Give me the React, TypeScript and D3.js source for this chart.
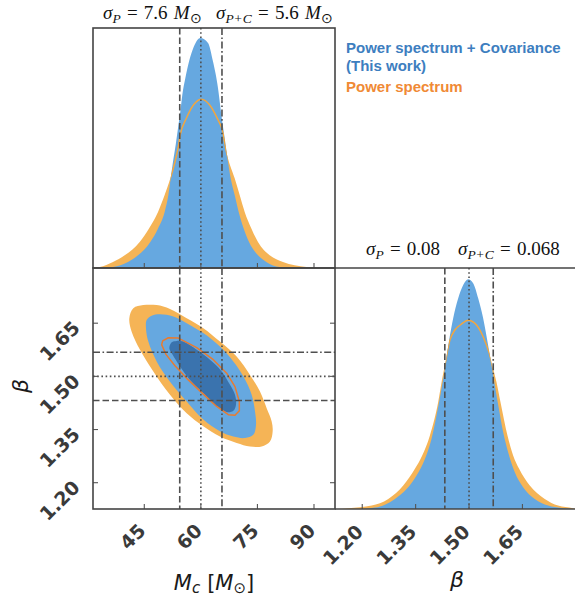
import React from 'react';
import * as d3 from 'd3';

// ---------------- data ----------------
const mcTicks = [45, 60, 75, 90];
const betaTicks = [1.2, 1.35, 1.5, 1.65];
const mcTickLabels = ['45', '60', '75', '90'];
const betaTickLabels = ['1.20', '1.35', '1.50', '1.65'];

// reference lines: lower sigma, true value, upper sigma
const mcRefLines = [54.4, 60.0, 65.6];
const betaRefLines = [1.432, 1.5, 1.568];
const refLineKinds = ['dashed', 'dotted', 'dashdot'];

// 1D marginal of Mc, Power spectrum + Covariance (normalised to its peak)
const mcBlueX = [33, 36.7, 40.68, 43.33, 46.6, 48.64, 50.4, 51.38, 52.0, 52.61, 53.32, 53.94, 54.56, 55.09, 55.89, 56.86, 57.92, 59.86, 61.9, 63.22, 64.55, 65.43, 66.32, 67.2, 67.91, 68.97, 70.03, 71.35, 72.77, 75.15, 77.36, 80.9, 86];
const mcBlueY = [0, 0.004, 0.026, 0.055, 0.113, 0.172, 0.244, 0.317, 0.39, 0.462, 0.535, 0.608, 0.68, 0.753, 0.826, 0.898, 0.953, 1.0, 0.978, 0.898, 0.782, 0.666, 0.564, 0.462, 0.39, 0.317, 0.244, 0.172, 0.113, 0.055, 0.026, 0.004, 0];
// 1D marginal of Mc, Power spectrum only
const mcOrangeX = [31.5, 33.17, 36.7, 39.8, 43.78, 46.25, 48.64, 50.4, 51.91, 53.15, 53.94, 54.56, 56.15, 58.18, 60.13, 62.34, 64.55, 65.7, 66.76, 68.97, 70.29, 71.62, 73.39, 75.15, 78.25, 81.78, 87.97, 92];
const mcOrangeY = [0, 0.004, 0.026, 0.055, 0.113, 0.172, 0.244, 0.317, 0.39, 0.462, 0.52, 0.581, 0.651, 0.712, 0.734, 0.709, 0.644, 0.6, 0.506, 0.39, 0.317, 0.244, 0.172, 0.113, 0.055, 0.026, 0.004, 0];

// 1D marginal of beta, Power spectrum + Covariance
const betaBlueX = [1.2, 1.2357, 1.2638, 1.2919, 1.3246, 1.3526, 1.376, 1.3947, 1.4088, 1.4209, 1.4321, 1.4434, 1.4555, 1.4696, 1.4836, 1.4976, 1.5116, 1.5257, 1.5397, 1.5519, 1.5631, 1.5724, 1.5837, 1.5958, 1.6099, 1.6286, 1.6519, 1.6847, 1.7221, 1.7595, 1.79];
const betaBlueY = [0, 0.006, 0.019, 0.044, 0.087, 0.146, 0.218, 0.306, 0.408, 0.509, 0.611, 0.728, 0.83, 0.917, 0.975, 1.0, 0.983, 0.917, 0.83, 0.728, 0.626, 0.539, 0.437, 0.335, 0.247, 0.16, 0.095, 0.044, 0.015, 0.004, 0];
// 1D marginal of beta, Power spectrum only
const betaOrangeX = [1.13, 1.161, 1.2264, 1.2731, 1.3152, 1.348, 1.3685, 1.3901, 1.4134, 1.4247, 1.4321, 1.4462, 1.4602, 1.477, 1.4976, 1.521, 1.5397, 1.5556, 1.5678, 1.5771, 1.5883, 1.608, 1.6239, 1.6407, 1.6706, 1.7127, 1.7501, 1.7922, 1.8];
const betaOrangeY = [0, 0.003, 0.015, 0.044, 0.102, 0.175, 0.233, 0.32, 0.466, 0.568, 0.626, 0.735, 0.779, 0.803, 0.822, 0.801, 0.75, 0.684, 0.611, 0.553, 0.466, 0.32, 0.233, 0.175, 0.102, 0.044, 0.015, 0.003, 0];

// 2D contours (Mc, beta)
const contourP2: [number, number][] = [[41.03, 1.664], [42.09, 1.692], [44.74, 1.701], [48.28, 1.701], [51.82, 1.69], [56.24, 1.664], [60.65, 1.636], [65.07, 1.598], [69.49, 1.556], [73.03, 1.504], [75.68, 1.457], [77.45, 1.41], [78.78, 1.373], [79.04, 1.345], [78.33, 1.316], [76.12, 1.302], [73.03, 1.302], [69.49, 1.312], [65.07, 1.33], [60.65, 1.359], [56.24, 1.396], [51.82, 1.448], [47.4, 1.514], [43.86, 1.575], [41.65, 1.626]];
const contourPC2: [number, number][] = [[45.45, 1.636], [45.63, 1.659], [46.95, 1.671], [49.16, 1.675], [52.7, 1.669], [56.24, 1.65], [60.65, 1.622], [65.07, 1.584], [68.61, 1.542], [71.26, 1.5], [73.47, 1.448], [74.36, 1.401], [74.62, 1.363], [73.91, 1.335], [71.7, 1.326], [68.61, 1.33], [65.07, 1.345], [60.65, 1.378], [56.24, 1.429], [51.82, 1.485], [48.28, 1.542], [46.07, 1.598]];
const contourPC1: [number, number][] = [[51.64, 1.579], [52.26, 1.596], [53.58, 1.6], [55.35, 1.598], [58.89, 1.575], [62.42, 1.547], [65.52, 1.514], [67.73, 1.476], [69.05, 1.448], [69.32, 1.42], [68.61, 1.403], [67.02, 1.399], [64.63, 1.412], [61.1, 1.448], [57.12, 1.49], [54.47, 1.528], [52.52, 1.561]];
const contourP1: [number, number][] = [[49.61, 1.589], [49.87, 1.6], [51.37, 1.609], [54.03, 1.608], [58.89, 1.581], [63.31, 1.547], [66.84, 1.509], [69.05, 1.471], [70.2, 1.429], [70.2, 1.403], [69.05, 1.39], [67.28, 1.392], [64.19, 1.415], [60.65, 1.45], [56.68, 1.49], [53.14, 1.53], [50.75, 1.562]];

const legendLabels = ['Power spectrum + Covariance', '(This work)', 'Power spectrum'];

// ---------------- styles ----------------
const C_BLUE = '#66a8e0';
const C_DBLUE = '#3a73ae';
const C_ORANGE = '#f5b456';
const C_ORANGE_LINE = '#f2a63f';
const C_ORANGE_LINE2 = '#e97b2f';
const C_REF = '#4f4f4f';
const C_FRAME = '#444444';
const DASH: Record<string, string> = {
  dashed: '6.5,3',
  dotted: '1.6,2.6',
  dashdot: '7,2.5,1.6,2.5',
};

export default function App() {
  const L = 93, Mx = 335, R = 577, T = 28, MID = 268, B = 509;

  const xMc = d3.scaleLinear().domain([31.4, 95.57]).range([L, Mx]);
  const yBeta = d3.scaleLinear().domain([1.1258, 1.8057]).range([B, MID]);
  const xBeta = d3.scaleLinear().domain([1.1235, 1.8033]).range([Mx, R]);
  const yTop = d3.scaleLinear().domain([0, 1.0436]).range([MID, T]);
  const yRight = d3.scaleLinear().domain([0, 1.049]).range([B, MID]);

  const mkArea = (xs: number[], ys: number[], sx: any, sy: any) =>
    d3.area<number>()
      .x((_, i) => sx(xs[i]))
      .y0(sy(0))
      .y1((_, i) => sy(ys[i]))
      .curve(d3.curveMonotoneX)(xs) as string;
  const mkLine = (xs: number[], ys: number[], sx: any, sy: any) =>
    d3.line<number>()
      .x((_, i) => sx(xs[i]))
      .y((_, i) => sy(ys[i]))
      .curve(d3.curveMonotoneX)(xs) as string;
  const smoothClosed = d3.line<[number, number]>()
    .x(d => xMc(d[0])).y(d => yBeta(d[1]))
    .curve(d3.curveCatmullRomClosed.alpha(0.5));
  const polyClosed = d3.line<[number, number]>()
    .x(d => xMc(d[0])).y(d => yBeta(d[1]))
    .curve(d3.curveLinearClosed);

  const blueMcArea = mkArea(mcBlueX, mcBlueY, xMc, yTop);
  const orangeMcArea = mkArea(mcOrangeX, mcOrangeY, xMc, yTop);
  const orangeMcLine = mkLine(mcOrangeX, mcOrangeY, xMc, yTop);
  const blueBetaArea = mkArea(betaBlueX, betaBlueY, xBeta, yRight);
  const orangeBetaArea = mkArea(betaOrangeX, betaOrangeY, xBeta, yRight);
  const orangeBetaLine = mkLine(betaOrangeX, betaOrangeY, xBeta, yRight);

  const tickLabelStyle: any = {
    fontFamily: 'DejaVu Sans',
    fontWeight: 'bold',
    fontSize: 19,
    fill: '#3a3a3a',
    textAnchor: 'end',
  };

  const serif = 'Liberation Serif, Times New Roman, serif';

  return (
    <svg width={575} height={601} style={{ position: 'absolute', left: 0, top: 0, display: 'block', background: '#fff' }}>
      <defs>
        <clipPath id="cTop"><rect x={L} y={T} width={Mx - L} height={MID - T} /></clipPath>
        <clipPath id="cBL"><rect x={L} y={MID} width={Mx - L} height={B - MID} /></clipPath>
        <clipPath id="cBR"><rect x={Mx} y={MID} width={R - Mx} height={B - MID} /></clipPath>
        <clipPath id="cBlueMc"><path d={blueMcArea} /></clipPath>
        <clipPath id="cBlueBeta"><path d={blueBetaArea} /></clipPath>
      </defs>
      <rect x={0} y={0} width={575} height={601} fill="#fff" />

      {/* ---- top-left: Mc marginal ---- */}
      <g clipPath="url(#cTop)">
        <path d={orangeMcArea} fill={C_ORANGE} />
        <path d={blueMcArea} fill={C_BLUE} />
        <path d={orangeMcLine} fill="none" stroke={C_ORANGE_LINE} strokeWidth={1.5} clipPath="url(#cBlueMc)" />
        {mcRefLines.map((v, i) => (
          <line key={i} x1={xMc(v)} x2={xMc(v)} y1={T} y2={MID} stroke={C_REF} strokeWidth={1.6} strokeDasharray={DASH[refLineKinds[i]]} />
        ))}
      </g>

      {/* ---- bottom-left: 2D ---- */}
      <g clipPath="url(#cBL)">
        <path d={smoothClosed(contourP2) as string} fill={C_ORANGE} />
        <path d={smoothClosed(contourPC2) as string} fill={C_BLUE} />
        <path d={smoothClosed(contourPC1) as string} fill={C_DBLUE} />
        <path d={polyClosed(contourP1) as string} fill="none" stroke={C_ORANGE_LINE2} strokeWidth={1.5} strokeLinejoin="round" />
        {mcRefLines.map((v, i) => (
          <line key={'v' + i} x1={xMc(v)} x2={xMc(v)} y1={MID} y2={B} stroke={C_REF} strokeWidth={1.6} strokeDasharray={DASH[refLineKinds[i]]} />
        ))}
        {betaRefLines.map((v, i) => (
          <line key={'h' + i} x1={L} x2={Mx} y1={yBeta(v)} y2={yBeta(v)} stroke={C_REF} strokeWidth={1.6} strokeDasharray={DASH[refLineKinds[i]]} />
        ))}
      </g>

      {/* ---- bottom-right: beta marginal ---- */}
      <g clipPath="url(#cBR)">
        <path d={orangeBetaArea} fill={C_ORANGE} />
        <path d={blueBetaArea} fill={C_BLUE} />
        <path d={orangeBetaLine} fill="none" stroke={C_ORANGE_LINE} strokeWidth={1.5} clipPath="url(#cBlueBeta)" />
        {betaRefLines.map((v, i) => (
          <line key={i} x1={xBeta(v)} x2={xBeta(v)} y1={MID} y2={B} stroke={C_REF} strokeWidth={1.6} strokeDasharray={DASH[refLineKinds[i]]} />
        ))}
      </g>

      {/* ---- ticks ---- */}
      <g stroke="#555" strokeWidth={1.1}>
        {mcTicks.map((t, i) => (
          <g key={i}>
            <line x1={xMc(t)} x2={xMc(t)} y1={MID} y2={MID - 5} />
            <line x1={xMc(t)} x2={xMc(t)} y1={B} y2={B - 5} />
          </g>
        ))}
        {betaTicks.map((t, i) => (
          <g key={i}>
            <line x1={L} x2={L + 5} y1={yBeta(t)} y2={yBeta(t)} />
            <line x1={Mx} x2={Mx - 5} y1={yBeta(t)} y2={yBeta(t)} />
            <line x1={xBeta(t)} x2={xBeta(t)} y1={B} y2={B - 5} />
          </g>
        ))}
      </g>

      {/* ---- frames ---- */}
      <g fill="none" stroke={C_FRAME} strokeWidth={1.6}>
        <rect x={L} y={T} width={Mx - L} height={MID - T} />
        <rect x={L} y={MID} width={Mx - L} height={B - MID} />
        <line x1={Mx} x2={R + 5} y1={MID} y2={MID} />
        <line x1={Mx} x2={R + 5} y1={B} y2={B} />
      </g>

      {/* ---- tick labels ---- */}
      {mcTicks.map((t, i) => (
        <text key={i} transform={`translate(${xMc(t) + 2.5},532) rotate(-45)`} {...tickLabelStyle}>{mcTickLabels[i]}</text>
      ))}
      {betaTicks.map((t, i) => (
        <text key={'y' + i} transform={`translate(81,${yBeta(t) + 6}) rotate(-45)`} {...tickLabelStyle}>{betaTickLabels[i]}</text>
      ))}
      {betaTicks.map((t, i) => (
        <text key={'x' + i} transform={`translate(${xBeta(t) + 2},533) rotate(-45)`} {...tickLabelStyle}>{betaTickLabels[i]}</text>
      ))}

      {/* ---- axis labels ---- */}
      <text x={214} y={590} fontFamily="DejaVu Sans" fontSize={21} textAnchor="middle" fill="#1a1a1a">
        <tspan fontStyle="italic">M</tspan>
        <tspan fontStyle="italic" fontSize={15} dy={3}>c</tspan>
        <tspan dy={-3} dx={7}>[</tspan>
        <tspan fontStyle="italic">M</tspan>
        <tspan fontSize={15} dy={3}>⊙</tspan>
        <tspan dy={-3}>]</tspan>
      </text>
      <text transform="translate(28,386) rotate(-90)" fontFamily="DejaVu Sans" fontStyle="italic" fontSize={22} textAnchor="middle" fill="#1a1a1a">β</text>
      <text x={457} y={587} fontFamily="DejaVu Sans" fontStyle="italic" fontSize={22} textAnchor="middle" fill="#1a1a1a">β</text>

      {/* ---- titles ---- */}
      <g fontFamily={serif} fontSize={19} fill="#111" wordSpacing={1.5}>
        <text x={103} y={18.5}>
          <tspan fontStyle="italic">σ</tspan>
          <tspan fontStyle="italic" fontSize={13.5} dy={4}>P</tspan>
          <tspan dy={-4}> = 7.6 </tspan>
          <tspan fontStyle="italic">M</tspan>
          <tspan fontSize={14} dy={4}>⊙</tspan>
        </text>
        <text x={216} y={18.5}>
          <tspan fontStyle="italic">σ</tspan>
          <tspan fontStyle="italic" fontSize={13.5} dy={4}>P+C</tspan>
          <tspan dy={-4}> = 5.6 </tspan>
          <tspan fontStyle="italic">M</tspan>
          <tspan fontSize={14} dy={4}>⊙</tspan>
        </text>
        <text x={366} y={255}>
          <tspan fontStyle="italic">σ</tspan>
          <tspan fontStyle="italic" fontSize={13.5} dy={4}>P</tspan>
          <tspan dy={-4}> = 0.08</tspan>
        </text>
        <text x={458} y={255}>
          <tspan fontStyle="italic">σ</tspan>
          <tspan fontStyle="italic" fontSize={13.5} dy={4}>P+C</tspan>
          <tspan dy={-4}> = 0.068</tspan>
        </text>
      </g>

      {/* ---- legend ---- */}
      <g fontFamily="Liberation Sans, Arial, sans-serif" fontWeight="bold" fontSize={15}>
        <text x={346} y={53} fill="#3d7ebf">{legendLabels[0]}</text>
        <text x={346} y={70.5} fill="#3d7ebf">{legendLabels[1]}</text>
        <text x={346} y={92} fill="#f08a35">{legendLabels[2]}</text>
      </g>
    </svg>
  );
}
